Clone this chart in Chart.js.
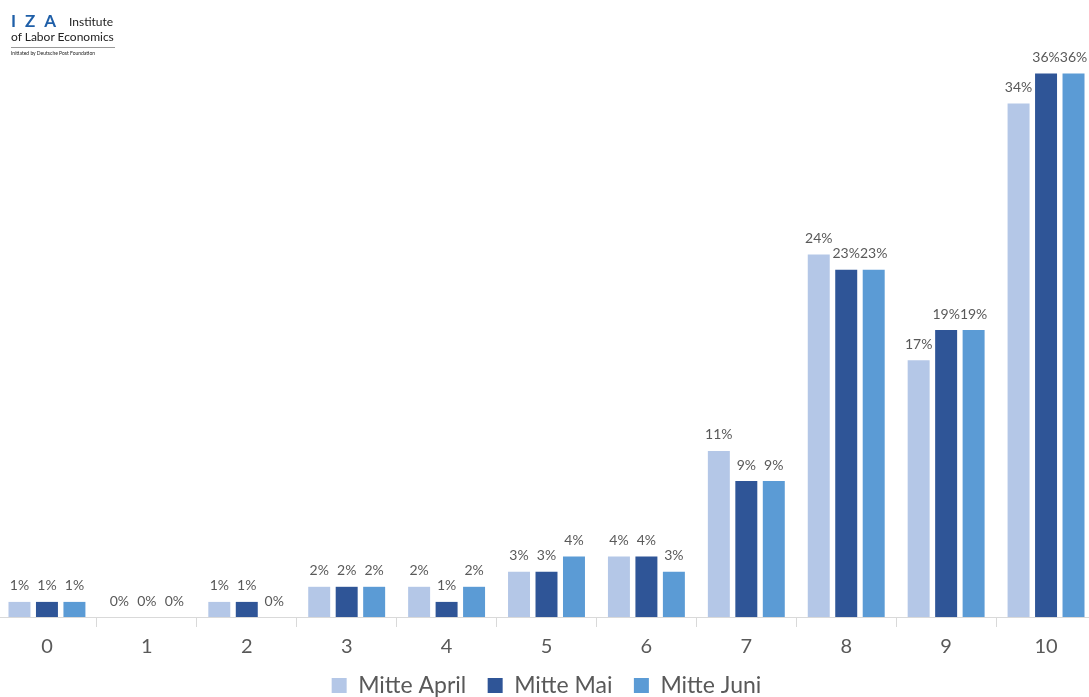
<!DOCTYPE html>
<html lang="de">
<head>
  <meta charset="utf-8">
  <title>IZA | Verteilung</title>
  <script src="https://cdn.jsdelivr.net/npm/chart.js@4.4.1/dist/chart.umd.min.js"></script>
  <style>
    html, body { margin: 0; padding: 0; background: #fff; overflow: hidden; }
    body { width: 1089px; height: 697px; position: relative; }
    .wrapper { position: absolute; left: -3px; top: 0; width: 1099px; height: 707px; }
    .logo { position: absolute; left: 11px; top: 10px; font-family: Lato, "Open Sans", sans-serif; color: #222; z-index: 2; }
    .logo .iza { color: #1f5fa8; font-weight: bold; font-size: 17px; letter-spacing: 9px; }
    .logo .inst { font-size: 12px; position: absolute; left: 58px; top: 4px; }
    .logo .lab { font-size: 12px; margin-top: -2px; padding-bottom: 3px; border-bottom: 1px solid #999; width: 104px; }
    .logo .fnd { font-size: 5px; margin-top: 2px; }
  </style>
</head>
<body>
  <div class="logo">
    <div class="iza">IZA</div>
    <div class="inst">Institute</div>
    <div class="lab">of Labor Economics</div>
    <div class="fnd">Initiated by Deutsche Post Foundation</div>
  </div>
  <div class="wrapper">
    <canvas id="chart-0"></canvas>
  </div>

  <script>
    let categories = ['0', '1', '2', '3', '4', '5', '6', '7', '8', '9', '10'];
    let seriesNames = ['Mitte April', 'Mitte Mai', 'Mitte Juni'];
    let april = [1, 0, 1, 2, 2, 3, 4, 11, 24, 17, 34];
    let mai = [1, 0, 1, 2, 1, 3, 4, 9, 23, 19, 36];
    let juni = [1, 0, 0, 2, 2, 4, 3, 9, 23, 19, 36];
    let colors = ['#b4c7e7', '#2f5597', '#5b9bd5'];

    let labelPlugin = {
      id: 'barLabels',
      afterDatasetsDraw: function(chart) {
        let ctx = chart.ctx;
        ctx.save();
        ctx.font = '14px Lato, "Open Sans", sans-serif';
        ctx.fillStyle = '#595959';
        ctx.textAlign = 'center';
        ctx.textBaseline = 'middle';
        chart.data.datasets.forEach(function(ds, i) {
          chart.getDatasetMeta(i).data.forEach(function(bar, j) {
            ctx.fillText(ds.data[j] + '%', bar.x, bar.y - 16);
          });
        });
        ctx.restore();
      }
    };

    let chart = new Chart('chart-0', {
      type: 'bar',
      data: {
        labels: categories,
        datasets: [
          { label: seriesNames[0], data: april, backgroundColor: colors[0] },
          { label: seriesNames[1], data: mai, backgroundColor: colors[1] },
          { label: seriesNames[2], data: juni, backgroundColor: colors[2] }
        ]
      },
      options: {
        responsive: true,
        maintainAspectRatio: false,
        animation: false,
        categoryPercentage: 0.825,
        barPercentage: 0.8,
        layout: { padding: { top: 13, left: 0, right: 0, bottom: 0 } },
        plugins: {
          legend: {
            position: 'bottom',
            labels: {
              color: '#595959',
              font: { family: 'Lato, "Open Sans", sans-serif', size: 23 },
              boxWidth: 15,
              boxHeight: 15,
              padding: 7,
              generateLabels: function(chart) {
                let items = Chart.defaults.plugins.legend.labels.generateLabels(chart);
                items.forEach(function(item, i) {
                  if (i < items.length - 1) item.text = item.text + '\u2002\u2009';
                });
                return items;
              }
            }
          },
          tooltip: { enabled: false }
        },
        scales: {
          x: {
            offset: true,
            grid: { offset: true, drawOnChartArea: false, tickLength: 10, color: '#d9d9d9' },
            border: { color: '#d9d9d9' },
            ticks: { color: '#595959', font: { family: 'Lato, "Open Sans", sans-serif', size: 20 }, padding: 8 }
          },
          y: {
            display: false,
            min: 0,
            max: 40
          }
        }
      },
      plugins: [labelPlugin]
    });
  </script>
</body>
</html>
